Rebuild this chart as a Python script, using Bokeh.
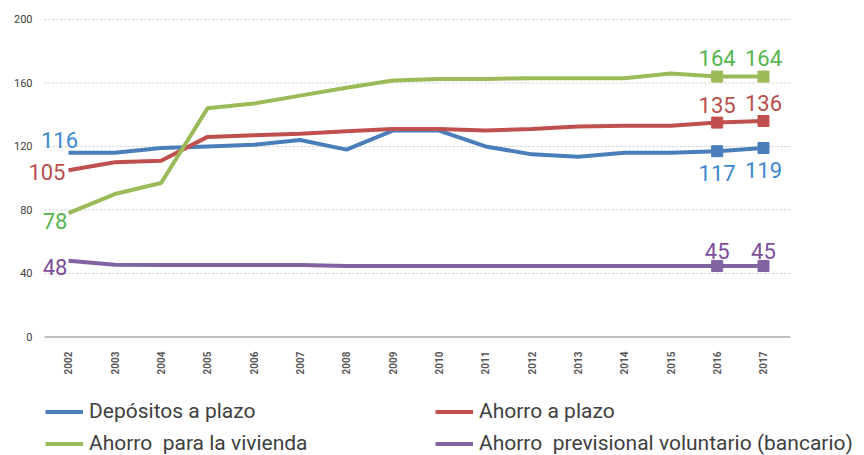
from bokeh.plotting import figure
from bokeh.models import Range1d, Legend, LegendItem, FixedTicker
from bokeh.core.properties import value
from bokeh.embed import file_html
from bokeh.resources import INLINE

years = list(range(2002, 2018))
year_labels = [str(y) for y in years]
y_ticks = [0, 40, 80, 120, 160, 200]
grid_values = [40, 80, 120, 160, 200]

series_names = ["Depósitos a plazo", "Ahorro a plazo", "Ahorro  para la vivienda",
                "Ahorro  previsional voluntario (bancario)"]
depositos = [116, 116, 119, 120, 121, 124, 118, 130, 130, 120, 115, 113.5, 116, 116, 117, 119]
ahorro_plazo = [105, 110, 111, 126, 127, 128, 129.5, 131, 131, 130, 131, 132.5, 133, 133, 135, 136]
vivienda = [78, 90, 97, 144, 147, 152, 157, 161.5, 162.5, 162.5, 163, 163, 163, 166, 164, 164]
previsional = [48, 45.5, 45.3, 45.3, 45.3, 45.3, 44.7, 44.7, 44.7, 44.7, 44.7, 44.7, 44.7, 44.7, 44.7, 44.7]

line_colors = ["#4A7EBB", "#C0504D", "#9BBB59", "#8064A2"]
label_colors = ["#3C88D2", "#B84F4D", "#55B54F", "#7B4E9C"]

FONT = "Roboto"

X0, X1 = 2001.137, 2017.583
GRID_X0 = 2001.482

p = figure(width=864, height=385, output_backend="svg", toolbar_location=None,
           x_range=Range1d(X0, X1), y_range=Range1d(-1, 205),
           min_border_left=28, min_border_right=74, min_border_top=11, min_border_bottom=47)
p.outline_line_color = None
p.background_fill_color = None
p.border_fill_color = None

# axes
p.yaxis.ticker = FixedTicker(ticks=y_ticks)
p.yaxis.axis_line_color = None
p.yaxis.major_tick_line_color = None
p.yaxis.minor_tick_line_color = None
p.yaxis.major_label_text_font = "Roboto"
p.yaxis.major_label_text_font_size = "11px"
p.yaxis.major_label_text_color = "#404040"
p.yaxis.major_label_standoff = -10

p.xaxis.ticker = FixedTicker(ticks=years)
p.xaxis.major_label_overrides = {y: s for y, s in zip(years, year_labels)}
p.xaxis.axis_line_color = None
p.xaxis.major_tick_line_color = None
p.xaxis.minor_tick_line_color = None
p.xaxis.major_label_orientation = 3.14159265 / 2
p.xaxis.major_label_text_font = "Roboto"
p.xaxis.major_label_text_font_style = "bold"
p.xaxis.major_label_text_font_size = "10px"
p.xaxis.major_label_text_color = "#595959"
p.xaxis.major_label_standoff = 7

p.xgrid.grid_line_color = None
p.ygrid.grid_line_color = None

# dotted horizontal grid lines and solid baseline, spanning the plot area
p.segment(x0=[GRID_X0] * len(grid_values), x1=[X1] * len(grid_values),
          y0=grid_values, y1=grid_values, line_color="#C8C8C8", line_dash="2 2", line_width=1)
p.segment(x0=[GRID_X0], x1=[X1], y0=[0], y1=[0], line_color="#BFBFBF", line_width=2)

all_series = [depositos, ahorro_plazo, vivienda, previsional]
for vals, lc in zip(all_series, line_colors):
    p.line(years, vals, line_color=lc, line_width=4)
    p.scatter(years[-2:], vals[-2:], marker="square", size=11, fill_color=lc, line_color=lc)


def lab(x, y, txt, color, align, baseline, xo, yo):
    p.text(x=[x], y=[y], text=[txt], text_color=color, text_font=value(FONT),
           text_font_size="22px", text_align=align, text_baseline=baseline,
           x_offset=xo, y_offset=yo)


# start labels
lab(years[0], depositos[0], str(round(depositos[0])), label_colors[0], "center", "bottom", -9, -5)
lab(years[0], ahorro_plazo[0], str(round(ahorro_plazo[0])), label_colors[1], "right", "middle", -3, 2)
lab(years[0], vivienda[0], str(round(vivienda[0])), label_colors[2], "right", "top", -1, 0)
lab(years[0], previsional[0], str(round(previsional[0])), label_colors[3], "right", "middle", -1, 6)

# end labels
for i in (-2, -1):
    lab(years[i], vivienda[i], str(round(vivienda[i])), label_colors[2], "center", "bottom", 0, -11)
    lab(years[i], ahorro_plazo[i], str(round(ahorro_plazo[i])), label_colors[1], "center", "bottom", 0, -10)
    lab(years[i], depositos[i], str(round(depositos[i])), label_colors[0], "center", "top", 0, 14)
    lab(years[i], previsional[i], str(round(previsional[i])), label_colors[3], "center", "bottom", 0, -7)

# legend panel below the chart (separate root so its frame spans the full width)
lg = figure(width=864, height=70, output_backend="svg", toolbar_location=None,
            x_range=Range1d(0, 1), y_range=Range1d(0, 1),
            min_border_left=0, min_border_right=0, min_border_top=0, min_border_bottom=0)
lg.axis.visible = False
lg.grid.visible = False
lg.outline_line_color = None
lg.background_fill_color = None
lg.border_fill_color = None
# swatch-only renderers, kept outside the visible range of this panel
leg_renderers = [lg.line([5, 6], [5, 6], line_color=lc, line_width=4) for lc in line_colors]

legend = Legend(items=[LegendItem(label=n, renderers=[r]) for n, r in zip(series_names, leg_renderers)],
                location=(45, 0), orientation="horizontal", ncols=2,
                glyph_width=38, glyph_height=23, label_standoff=6, label_width=338,
                label_height=23, spacing=8, padding=0, margin=0,
                border_line_color=None, background_fill_alpha=0,
                label_text_font=FONT, label_text_font_size="21px",
                label_text_color="#404040")
lg.add_layout(legend, "center")

open("out.html", "w").write(file_html([p, lg], INLINE))
